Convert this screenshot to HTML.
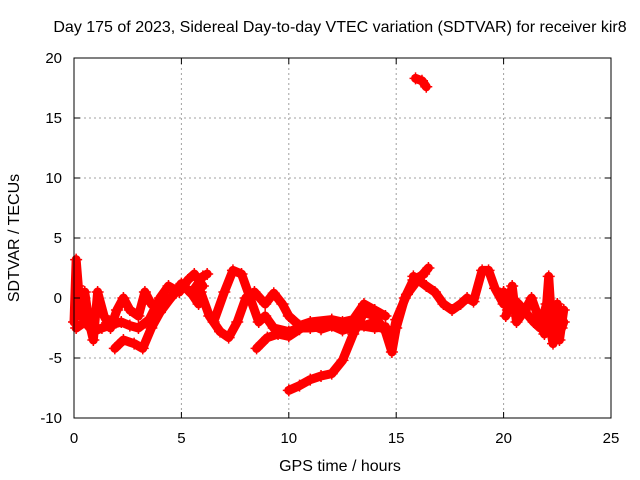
<!DOCTYPE html>
<html><head><meta charset="utf-8">
<style>
body{margin:0;background:#fff;}
svg{display:block;font-family:"Liberation Sans",sans-serif;}
</style></head>
<body>
<svg id="chart" width="640" height="480">
<text x="340" y="32" font-size="16" text-anchor="middle">Day 175 of 2023, Sidereal Day-to-day VTEC variation (SDTVAR) for receiver kir8</text>
<text x="340" y="471" font-size="16" text-anchor="middle">GPS time / hours</text>
<text transform="translate(19,238) rotate(-90)" font-size="16" text-anchor="middle">SDTVAR / TECUs</text>
<g id="grid"></g><g id="marks"></g><g id="axes"></g>
</svg>
<script>
const xTicks=[0,5,10,15,20,25];
const yTicks=[-10,-5,0,5,10,15,20];
const trackA=[[0,-2],[0.1,3.2],[0.2,1],[0.3,-1.5],[0.5,0.5],[0.7,-2],[0.9,-3.5],[1.1,0.5],[1.4,-1.5],[1.7,-2.5],[2.0,-1],[2.3,0],[2.6,-1],[3.0,-1.5],[3.3,0.5],[3.6,-0.5],[4.0,-1],[4.5,0],[5.0,1],[5.5,0.5],[6.0,1.8],[6.2,2]];
const trackB=[[1.9,-4.2],[2.3,-3.5],[2.8,-3.8],[3.2,-4.2],[3.6,-2.5],[4.0,-1.2],[4.5,0],[5.0,1.2],[5.5,0.3],[5.8,-0.5]];
const trackC=[[0.1,-2.5],[0.5,-2],[0.9,-2.8],[1.3,-2.5],[1.8,-2.2],[2.2,-2],[2.6,-2.3],[3.0,-2.5],[3.5,-1.8],[4.0,0],[4.4,1],[4.9,0.5],[5.3,1.5],[5.6,2],[6.0,1]];
const trackD=[[5.9,0.5],[6.3,-1.5],[6.8,-2.8],[7.2,-3.3],[7.6,-2],[8.0,0],[8.4,0.5],[8.9,-0.5],[9.3,0.4],[9.7,-0.5],[10.0,-1.5],[10.5,-2.3],[11.0,-2],[12.0,-1.8],[13.0,-2.2],[14.0,-2.5],[14.5,-2.4],[14.8,-3.5],[15.0,-1.8],[15.5,0.3],[16.0,1.5],[16.5,2.5]];
const trackE=[[6.5,-2],[7.0,0.5],[7.4,2.3],[7.8,2],[8.2,0],[8.6,-2],[8.9,-1.5],[9.3,-2.5],[10.0,-2.8],[10.5,-2.5],[11.0,-2.5],[12.0,-2.3],[12.5,-2],[13.0,-1.8],[13.5,-0.5],[14.0,-1],[14.5,-1.5]];
const trackF=[[8.5,-4.2],[9.0,-3.3],[9.5,-3],[10.0,-3.2],[10.5,-2.6],[11.0,-2.2],[11.5,-2.6],[12.0,-2.3],[12.5,-2.7],[13.0,-2.4],[13.5,-2.3],[14.0,-2],[14.5,-2.6]];
const trackG=[[10.0,-7.7],[10.5,-7.3],[11.0,-6.8],[11.5,-6.5],[12.0,-6.3],[12.5,-5.2],[13.0,-3],[13.5,-1.2],[14.0,-1.5],[14.5,-2.8],[14.8,-4.5],[15.0,-2.5],[15.4,0],[15.8,1.5],[16.3,2]];
const trackH=[[15.8,1.8],[16.4,1],[16.8,0.5],[17.2,-0.5],[17.6,-1],[18.0,-0.5],[18.3,0],[18.6,-0.3],[19.0,2.3],[19.3,2.3],[19.6,0.8],[20.0,-0.5],[20.3,0.5],[20.6,-1]];
const trackI=[[20.0,0.5],[20.2,-1],[20.4,1],[20.6,-2],[21.0,-1],[21.3,0],[21.6,-1.5],[21.9,-3],[22.1,1.8],[22.2,-1],[22.4,-2],[22.6,-3.5],[22.8,-1]];
const trackK=[[20.1,-1.5],[20.4,0],[20.7,-0.5],[21.4,-2],[21.7,-2.5],[22.0,-0.5],[22.3,-3.8],[22.5,-0.5],[22.7,-2.5],[22.8,-2]];
const trackJ=[[15.9,18.3],[16.2,18.1],[16.4,17.6]];
const tracks=[trackA,trackB,trackC,trackD,trackE,trackF,trackG,trackH,trackI,trackK,trackJ];
const X0=74,X1=611,Y0=418,Y1=58,xMin=0,xMax=25,yMin=-10,yMax=20;
const sx=v=>X0+(v-xMin)/(xMax-xMin)*(X1-X0);
const sy=v=>Y0-(v-yMin)/(yMax-yMin)*(Y0-Y1);
const NS='http://www.w3.org/2000/svg';
const mk=(t,a,p)=>{const e=document.createElementNS(NS,t);for(const k in a)e.setAttribute(k,a[k]);p.appendChild(e);return e;};
const grid=document.getElementById('grid'),axes=document.getElementById('axes'),marks=document.getElementById('marks');
xTicks.forEach(t=>{const x=sx(t);
 if(t>xMin&&t<xMax){const g=mk('line',{x1:x,x2:x,y1:Y1,y2:Y0,stroke:'#a0a0a0','stroke-dasharray':'2,3'},grid);
 
 }
 const l=mk('text',{x:x,y:Y0+25,'font-size':15,'text-anchor':'middle'},axes);l.textContent=t;
 
 
 mk('line',{x1:x,x2:x,y1:Y0,y2:Y0-6,stroke:'#000'},axes);mk('line',{x1:x,x2:x,y1:Y1,y2:Y1+6,stroke:'#000'},axes);});
yTicks.forEach(t=>{const y=sy(t);
 if(t>yMin&&t<yMax){const g=mk('line',{x1:X0,x2:X1,y1:y,y2:y,stroke:'#a0a0a0','stroke-dasharray':'2,3'},grid);
 
 }
 const l=mk('text',{x:X0-12,y:y+5,'font-size':15,'text-anchor':'end'},axes);l.textContent=t;
 
 
 mk('line',{x1:X0,x2:X0+6,y1:y,y2:y,stroke:'#000'},axes);mk('line',{x1:X1,x2:X1-6,y1:y,y2:y,stroke:'#000'},axes);});
const frame=mk('rect',{x:X0,y:Y1,width:X1-X0,height:Y0-Y1,fill:'none',stroke:'#000'},axes);


tracks.forEach(tr=>{
 const pl=mk('polyline',{points:tr.map(p=>sx(p[0])+','+sy(p[1])).join(' '),fill:'none',stroke:'#f00','stroke-width':9,'stroke-linejoin':'round','stroke-linecap':'round'},marks);
 
 
 tr.forEach(p=>{const x=sx(p[0]),y=sy(p[1]);
  const m=mk('path',{d:`M${x-6},${y}H${x+6}M${x},${y-6}V${y+6}`,stroke:'#f00','stroke-width':1.5},marks);
  
  });
});
</script>
</body></html>
